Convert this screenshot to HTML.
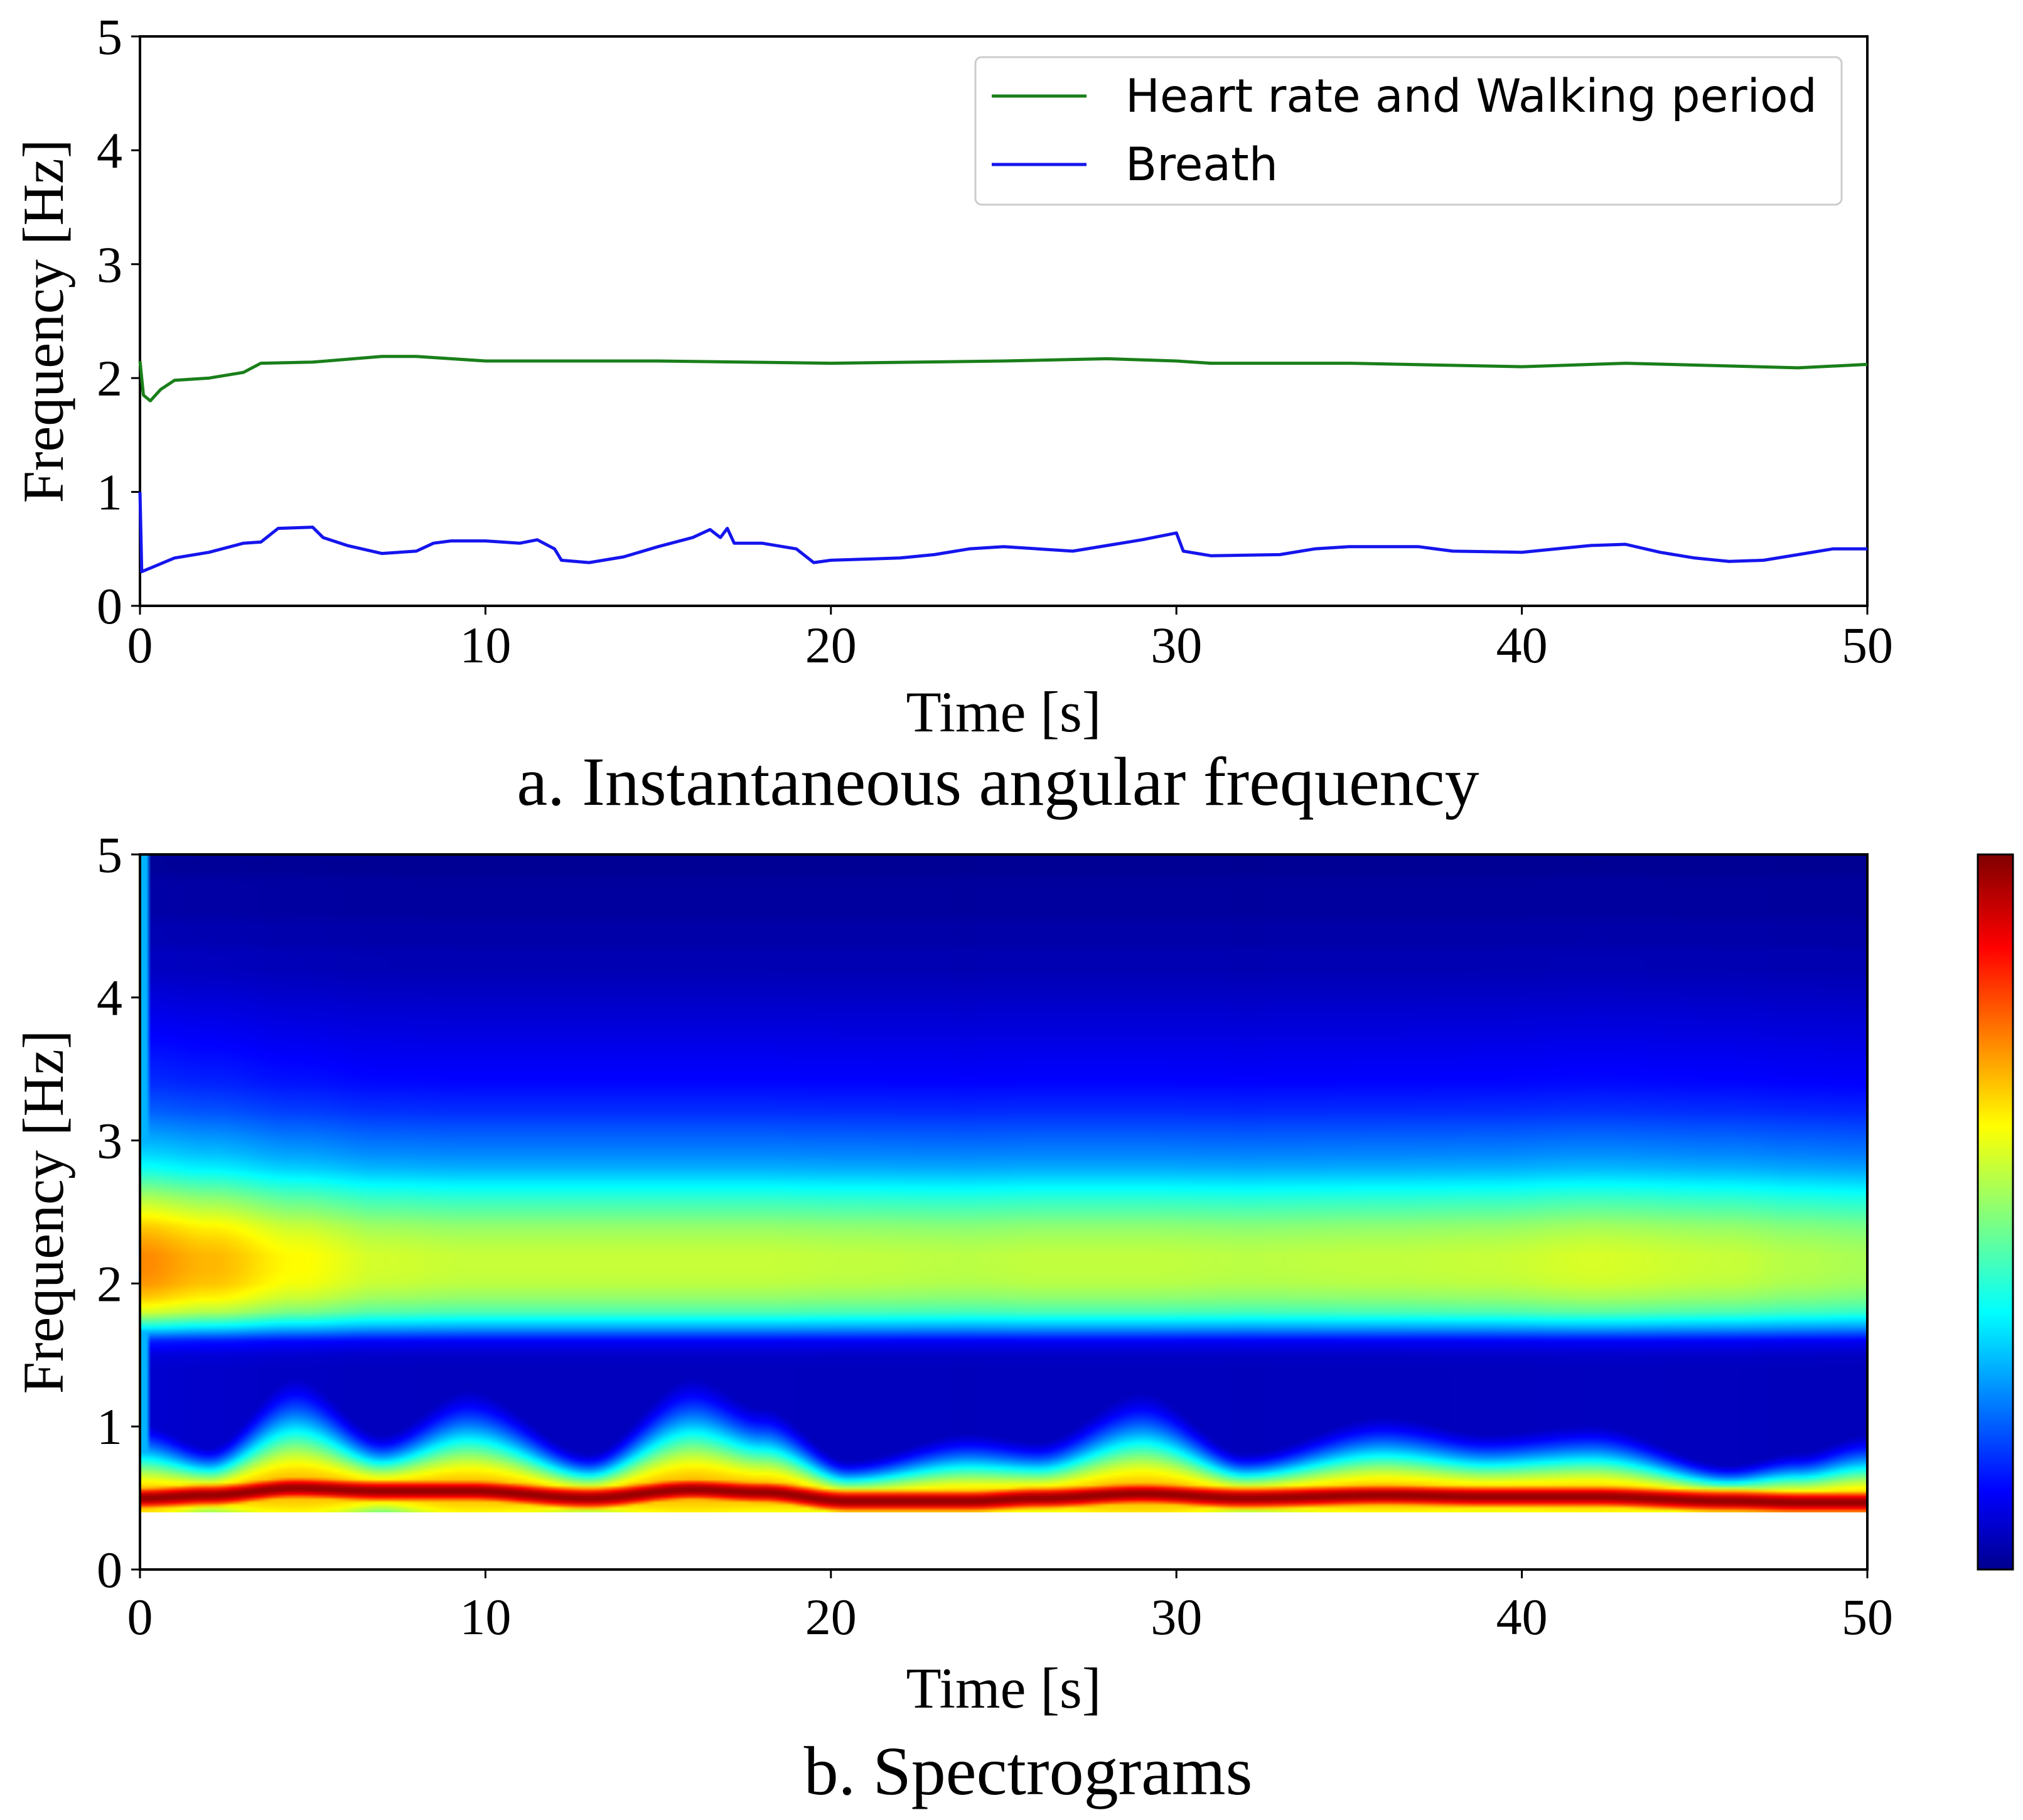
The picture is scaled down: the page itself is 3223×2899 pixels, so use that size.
<!DOCTYPE html>
<html><head><meta charset="utf-8"><style>
body{margin:0;background:#fff;width:3223px;height:2899px;position:relative;overflow:hidden}
svg{position:absolute;left:0;top:0}
#spec{position:absolute;left:223px;top:1361px;width:2752px;height:1048px;image-rendering:auto}
text{font-family:"Liberation Serif",serif;fill:#000}
.leg{font-family:"DejaVu Sans","Liberation Sans",sans-serif;font-size:73px}
</style></head><body>
<canvas id="spec" width="400" height="230"></canvas>
<svg id="chart" width="3223" height="2899" viewBox="0 0 3223 2899">
<defs><linearGradient id="jet" x1="0" y1="1" x2="0" y2="0">
<stop offset="0" stop-color="#00008f"/><stop offset="0.11" stop-color="#0000ff"/><stop offset="0.36" stop-color="#00ffff"/><stop offset="0.62" stop-color="#ffff00"/><stop offset="0.87" stop-color="#ff0000"/><stop offset="1" stop-color="#800000"/></linearGradient></defs>
<g id="top"></g><g id="bottom"></g>
<rect x="3151" y="1361" width="56" height="1139" fill="url(#jet)" stroke="#000" stroke-width="3"/>
<g>
<rect x="1554" y="91" width="1380" height="235" rx="10" fill="#fff" stroke="#ccc" stroke-width="3"/>
<line x1="1580" y1="153" x2="1731" y2="153" stroke="#1a7f1a" stroke-width="5"/>
<text class="leg" x="1793" y="178">Heart rate and Walking period</text>
<line x1="1580" y1="262" x2="1731" y2="262" stroke="#1515ee" stroke-width="5"/>
<text class="leg" x="1793" y="287">Breath</text>
</g>
<text x="1590" y="1282" font-size="110" text-anchor="middle">a. Instantaneous angular frequency</text>
<text x="1638" y="2858" font-size="110" text-anchor="middle">b. Spectrograms</text>
</svg>
<script>
// Top chart data
const heartT=[0,0.1,0.3,0.6,1,2,3,3.5,5,7,8,10,15,20,25,28,30,31,35,40,43,48,50];
const heartF=[2.15,1.85,1.8,1.9,1.98,2.0,2.05,2.13,2.14,2.19,2.19,2.15,2.15,2.13,2.15,2.17,2.15,2.13,2.13,2.1,2.13,2.09,2.12];
const breathT=[0,0.05,1,2,3,3.5,4,5,5.3,6,7,8,8.5,9,10,11,11.5,12,12.2,13,14,15,16,16.5,16.8,17,17.2,18,19,19.5,20,22,23,24,25,27,28,29,30,30.2,31,33,34,35,37,38,40,41,42,43,44,45,46,47,48,49,50];
const breathF=[1.0,0.3,0.42,0.47,0.55,0.56,0.68,0.69,0.6,0.53,0.46,0.48,0.55,0.57,0.57,0.55,0.58,0.5,0.4,0.38,0.43,0.52,0.6,0.67,0.6,0.68,0.55,0.55,0.5,0.38,0.4,0.42,0.45,0.5,0.52,0.48,0.53,0.58,0.64,0.48,0.44,0.45,0.5,0.52,0.52,0.48,0.47,0.5,0.53,0.54,0.47,0.42,0.39,0.4,0.45,0.5,0.5];
const xTicks=[0,10,20,30,40,50];
const yTicks=[0,1,2,3,4,5];
// Spectrogram data
const specT=[0,2,4.5,7,9.5,13,16,18,20.5,24,26,29,32,36,39,42,46,48,50];
const ridgeFreq=[0.5,0.52,0.57,0.55,0.55,0.5,0.56,0.54,0.48,0.48,0.5,0.53,0.5,0.52,0.51,0.51,0.48,0.47,0.47];
const shoulderWidth=[0.35,0.22,0.5,0.25,0.45,0.2,0.5,0.38,0.18,0.3,0.25,0.45,0.2,0.35,0.28,0.32,0.16,0.22,0.3];
const heartAmp=[1.3,1.22,1.1,1.02,1.0,1.0,1.0,1.0,0.99,0.98,0.99,0.99,0.98,0.99,1.0,1.03,1.0,0.97,0.95];
const specF=[];for(let i=0;i<47;i++)specF.push(0.4+i*0.1);
const heartProfile=[0.06,0.06,0.06,0.06,0.06,0.06,0.06,0.06,0.06,0.06,0.06,0.07,0.12,0.3,0.45,0.52,0.56,0.57,0.57,0.55,0.52,0.47,0.42,0.36,0.3,0.26,0.23,0.2,0.17,0.15,0.13,0.12,0.11,0.1,0.09,0.08,0.07,0.06,0.05,0.05,0.04,0.04,0.03,0.03,0.03,0.02,0.02];

const NS='http://www.w3.org/2000/svg';
function mk(tag,attrs,parent){const e=document.createElementNS(NS,tag);for(const k in attrs)e.setAttribute(k,attrs[k]);parent.appendChild(e);return e;}
function interp(xs,ys,x){if(x<=xs[0])return ys[0];for(let i=1;i<xs.length;i++){if(x<=xs[i]){const u=(x-xs[i-1])/(xs[i]-xs[i-1]);const s=u*u*(3-2*u);return ys[i-1]+s*(ys[i]-ys[i-1]);}}return ys[ys.length-1];}
function lin(xs,ys,x){if(x<=xs[0])return ys[0];for(let i=1;i<xs.length;i++){if(x<=xs[i]){const u=(x-xs[i-1])/(xs[i]-xs[i-1]);return ys[i-1]+u*(ys[i]-ys[i-1]);}}return ys[ys.length-1];}

function axes(g,top,bottom,name,labY,tickY,timeY){
  const L=223,R=2975;
  const xs=t=>L+(t/50)*(R-L), ys=f=>bottom-(f/5)*(bottom-top);
  const fr=mk('rect',{x:L,y:top,width:R-L,height:bottom-top,fill:'none',stroke:'#000','stroke-width':4},g);
  
  xTicks.forEach(v=>{
    const l=mk('line',{x1:xs(v),x2:xs(v),y1:bottom,y2:bottom+14,stroke:'#000','stroke-width':3},g);
    
    const t=mk('text',{x:xs(v),y:tickY,'font-size':82,'text-anchor':'middle'},g);t.textContent=v;
    
  });
  yTicks.forEach(v=>{
    const l=mk('line',{x1:L-14,x2:L,y1:ys(v),y2:ys(v),stroke:'#000','stroke-width':3},g);
    
    const t=mk('text',{x:195,y:ys(v)+28,'font-size':82,'text-anchor':'end'},g);t.textContent=v;
    
  });
  const yl=mk('text',{x:0,y:0,'font-size':92,'text-anchor':'middle',transform:`translate(${labY},${(top+bottom)/2}) rotate(-90)`},g);
  yl.textContent='Frequency [Hz]';
  const xl=mk('text',{x:(L+R)/2,y:timeY,'font-size':92,'text-anchor':'middle'},g);
  xl.textContent='Time [s]';
  return {xs,ys};
}
const gt=document.getElementById('top'), gb=document.getElementById('bottom');
const A=axes(gt,58,965,'top',100,1055,1165);
function line(ts,fs,color,name){
  const d=ts.map((t,i)=>(i?'L':'M')+A.xs(t).toFixed(1)+','+A.ys(fs[i]).toFixed(1)).join('');
  const p=mk('path',{d:d,fill:'none',stroke:color,'stroke-width':5,'stroke-linejoin':'round'},gt);
  
}
line(heartT,heartF,'#1a7f1a','heart-rate-line');
line(breathT,breathF,'#1515ee','breath-line');
axes(gb,1361,2500,'bottom',100,2603,2720);

// spectrogram
function jet(v){v=Math.max(0,Math.min(1,v));const c=x=>Math.max(0,Math.min(1,x));
  return [c(1.5-Math.abs(4*v-3)),c(1.5-Math.abs(4*v-2)),c(1.5-Math.abs(4*v-1))].map(x=>Math.round(x*255));}
const cv=document.getElementById('spec'),ctx=cv.getContext('2d');
const W=cv.width,H=cv.height,img=ctx.createImageData(W,H);
for(let x=0;x<W;x++){
  const t=(x+0.5)/W*50;
  const rf=interp(specT,ridgeFreq,t), sw=interp(specT,shoulderWidth,t), ha=interp(specT,heartAmp,t);
  for(let y=0;y<H;y++){
    const f=5-(y+0.5)/H*4.6;
    let v=ha*lin(specF,heartProfile,f);
    if(t<0.25)v=Math.max(v,0.3);
    v=Math.max(v,0.98*Math.exp(-Math.pow((f-rf)/0.12,2)));
    v=Math.max(v,0.7*Math.exp(-Math.pow((f-rf)/sw,2)));
    const [r,g,b]=jet(v),k=(y*W+x)*4;
    img.data[k]=r;img.data[k+1]=g;img.data[k+2]=b;img.data[k+3]=255;
  }
}
ctx.putImageData(img,0,0);
</script>
</body></html>
